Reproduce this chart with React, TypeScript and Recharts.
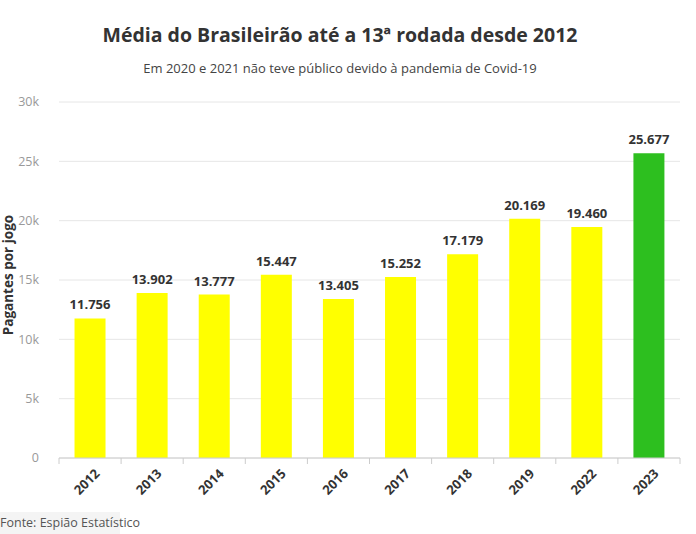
import React from 'react';
import { BarChart, Bar, XAxis, YAxis, CartesianGrid, Cell, LabelList, Label } from 'recharts';

const YEARS = ['2012', '2013', '2014', '2015', '2016', '2017', '2018', '2019', '2022', '2023'];
const AVERAGES = [11756, 13902, 13777, 15447, 13405, 15252, 17179, 20169, 19460, 25677];
const Y_TICKS = [0, 5000, 10000, 15000, 20000, 25000, 30000];

const YELLOW = '#ffff00';
const GREEN = '#2dbf1f';
const FONT = '"Open Sans", "Noto Sans", sans-serif';

const data = YEARS.map((year, i) => ({
  year,
  value: AVERAGES[i],
  color: i === YEARS.length - 1 ? GREEN : YELLOW,
}));

const fmtThousands = (v: number) => v.toLocaleString('de-DE');

function YearTick(props: any) {
  const { x, y, payload, index } = props;
  const half = payload.offset || 31;
  return (
    <g>
      <line x1={x - half} x2={x - half} y1={y - 8} y2={y - 2} stroke="#ccc" />
      {index === YEARS.length - 1 && (
        <line x1={x + half} x2={x + half} y1={y - 8} y2={y - 2} stroke="#ccc" />
      )}
      <text
        x={0}
        y={0}
        transform={`translate(${x + 8},${y + 6}) rotate(-45)`}
        textAnchor="end"
        dominantBaseline="middle"
        fontSize={13}
        fontWeight={700}
        fill="#333"
        fontFamily={FONT}
      >
        {payload.value}
      </text>
    </g>
  );
}

function AxisTitle(props: any) {
  const { viewBox } = props;
  const cy = viewBox.y + viewBox.height / 2;
  return (
    <text
      x={0}
      y={0}
      transform={`translate(9,${cy - 5}) rotate(-90)`}
      textAnchor="middle"
      dominantBaseline="middle"
      fontSize={13.5}
      fontWeight={700}
      fill="#333"
      fontFamily={FONT}
    >
      Pagantes por jogo
    </text>
  );
}

export default function App() {
  return (
    <div
      style={{
        position: 'fixed',
        left: 0,
        top: 0,
        width: 696,
        height: 534,
        background: '#fff',
        fontFamily: FONT,
        overflow: 'hidden',
      }}
    >
      <div
        style={{
          position: 'absolute',
          left: 0,
          width: 680,
          top: 21,
          textAlign: 'center',
          fontSize: 19.5,
          fontWeight: 700,
          color: '#333',
        }}
      >
        Média do Brasileirão até a 13ª rodada desde 2012
      </div>
      <div
        style={{
          position: 'absolute',
          left: 0,
          width: 680,
          top: 59,
          textAlign: 'center',
          fontSize: 13,
          color: '#444',
        }}
      >
        Em 2020 e 2021 não teve público devido à pandemia de Covid-19
      </div>
      <BarChart
        width={696}
        height={534}
        data={data}
        margin={{ top: 102, right: 16, bottom: 0, left: 0 }}
        barCategoryGap="25%"
      >
        <CartesianGrid vertical={false} stroke="#e6e6e6" />
        <XAxis
          dataKey="year"
          interval={0}
          tickLine={false}
          axisLine={{ stroke: '#ccc' }}
          tick={<YearTick />}
          height={76}
        />
        <YAxis
          width={59}
          domain={[0, 30000]}
          ticks={Y_TICKS}
          axisLine={false}
          tickLine={false}
          tickMargin={14}
          tick={{ fontSize: 12.5, fill: '#999', fontFamily: FONT }}
          tickFormatter={(v: number) => (v === 0 ? '0' : `${v / 1000}k`)}
        >
          <Label content={<AxisTitle />} />
        </YAxis>
        <Bar dataKey="value" isAnimationActive={false}>
          {data.map((d) => (
            <Cell key={d.year} fill={d.color} />
          ))}
          <LabelList
            dataKey="value"
            position="top"
            offset={9}
            formatter={(v: any) => fmtThousands(Number(v))}
            style={{ fontSize: 13, fontWeight: 700, fill: '#333', fontFamily: FONT }}
          />
        </Bar>
      </BarChart>
      <div
        style={{
          position: 'absolute',
          left: 0,
          top: 512,
          width: 120,
          height: 22,
          background: '#f4f4f4',
        }}
      />
      <div
        style={{
          position: 'absolute',
          left: 0,
          top: 514,
          fontSize: 12.5,
          color: '#555',
          whiteSpace: 'nowrap',
        }}
      >
        Fonte: Espião Estatístico
      </div>
    </div>
  );
}
